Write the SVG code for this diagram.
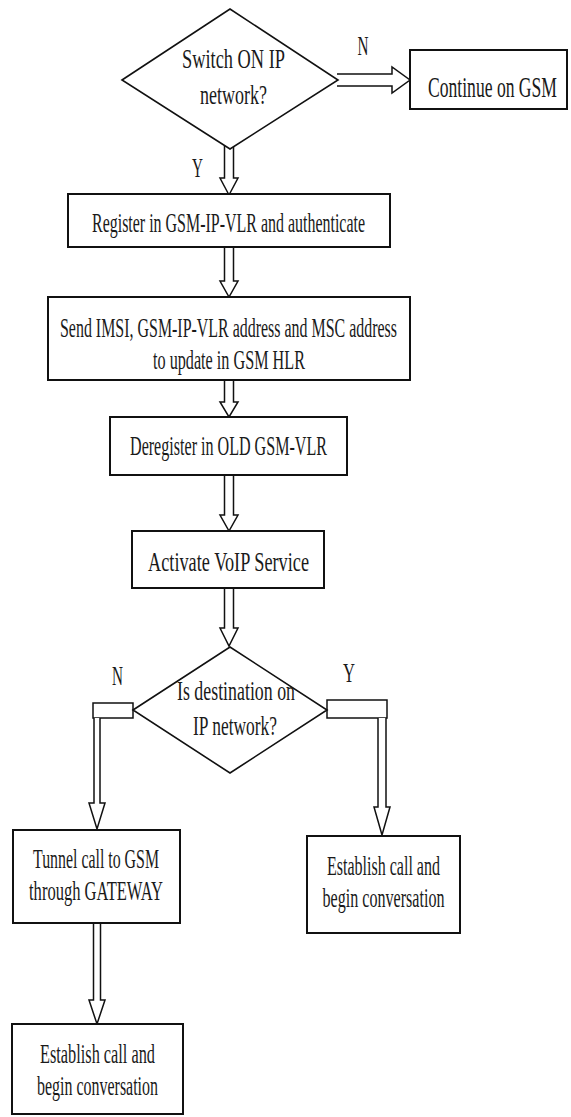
<svg xmlns="http://www.w3.org/2000/svg" width="571" height="1117" viewBox="0 0 571 1117">
<style>
.box{fill:#fff;stroke:#111;stroke-width:2}
.dia{fill:#fff;stroke:#111;stroke-width:1.6}
.arr{fill:#fff;stroke:#111;stroke-width:1.5;stroke-linejoin:miter}
text{font-family:"Liberation Serif","Times New Roman",serif;font-size:28px;fill:#1a1a1a;text-anchor:middle}
.big{font-size:30px}
</style>
<rect width="571" height="1117" fill="#fff"/>
<g id="connectors">
  <path class="arr" d="M224.5,146 L224.5,178 L220,178 L229,195 L238,178 L233.5,178 L233.5,146"/>
  <path class="arr" d="M224.5,247 L224.5,281 L220,281 L229,297 L238,281 L233.5,281 L233.5,247"/>
  <path class="arr" d="M224.5,380 L224.5,402 L220,402 L229,417 L238,402 L233.5,402 L233.5,380"/>
  <path class="arr" d="M224.5,475 L224.5,515 L220,515 L229,531 L238,515 L233.5,515 L233.5,475"/>
  <path class="arr" d="M224.5,588 L224.5,628 L220,628 L229,646 L238,628 L233.5,628 L233.5,588"/>
  <path class="arr" d="M337,74 L392,74 L392,67 L410,80 L392,93 L392,86 L337,86"/>
  <rect class="arr" x="93" y="703" width="40" height="15"/>
  <path class="arr" d="M94,718 L94,803 L89,803 L97,829 L105,803 L100,803 L100,718"/>
  <rect class="arr" x="327" y="700" width="60" height="18"/>
  <path class="arr" d="M378,718 L378,807 L374,807 L382,835 L390,807 L386,807 L386,718"/>
  <path class="arr" d="M93.5,923 L93.5,1000 L89,1000 L97,1024 L105,1000 L100.5,1000 L100.5,923"/>
</g>
<g id="n-switch">
  <polygon class="dia" points="122,80 230,9 338,80 230,149"/>
  <text transform="translate(233.5,68) scale(0.6,1)" textLength="171.7" lengthAdjust="spacingAndGlyphs">Switch ON IP</text>
  <text transform="translate(233.5,104) scale(0.6,1)" textLength="111.7" lengthAdjust="spacingAndGlyphs">network?</text>
</g>
<g id="lbl-n1"><text transform="translate(363,55) scale(0.6,1)" textLength="18.3" lengthAdjust="spacingAndGlyphs">N</text></g>
<g id="lbl-y1"><text transform="translate(197.5,177) scale(0.6,1)" textLength="18.3" lengthAdjust="spacingAndGlyphs">Y</text></g>
<g id="n-continue">
  <rect class="box" x="410" y="50" width="157" height="59"/>
  <text class="big" transform="translate(492.5,97) scale(0.6,1)" textLength="215" lengthAdjust="spacingAndGlyphs">Continue on GSM</text>
</g>
<g id="n-register">
  <rect class="box" x="68" y="194" width="322" height="53"/>
  <text transform="translate(228.5,232) scale(0.6,1)" textLength="455" lengthAdjust="spacingAndGlyphs">Register in GSM-IP-VLR and authenticate</text>
</g>
<g id="n-send">
  <rect class="box" x="48" y="297" width="362" height="83"/>
  <text transform="translate(228.5,337) scale(0.6,1)" textLength="561.7" lengthAdjust="spacingAndGlyphs">Send IMSI, GSM-IP-VLR address and MSC address</text>
  <text transform="translate(229,369) scale(0.6,1)" textLength="253.3" lengthAdjust="spacingAndGlyphs">to update in GSM HLR</text>
</g>
<g id="n-deregister">
  <rect class="box" x="110" y="417" width="237" height="58"/>
  <text transform="translate(228.5,455) scale(0.6,1)" textLength="328.3" lengthAdjust="spacingAndGlyphs">Deregister in OLD GSM-VLR</text>
</g>
<g id="n-activate">
  <rect class="box" x="132" y="531" width="192" height="57"/>
  <text transform="translate(228.5,571) scale(0.6,1)" textLength="268.3" lengthAdjust="spacingAndGlyphs">Activate VoIP Service</text>
</g>
<g id="n-destination">
  <polygon class="dia" points="133,710 230,647 327,710 230,773"/>
  <text transform="translate(236,700) scale(0.6,1)" textLength="196.7" lengthAdjust="spacingAndGlyphs">Is destination on</text>
  <text transform="translate(235,735) scale(0.6,1)" textLength="140" lengthAdjust="spacingAndGlyphs">IP network?</text>
</g>
<g id="lbl-n2"><text transform="translate(117.5,685) scale(0.6,1)" textLength="18.3" lengthAdjust="spacingAndGlyphs">N</text></g>
<g id="lbl-y2"><text transform="translate(349,682) scale(0.6,1)" textLength="20" lengthAdjust="spacingAndGlyphs">Y</text></g>
<g id="n-tunnel">
  <rect class="box" x="13" y="830" width="167" height="93"/>
  <text transform="translate(96,868) scale(0.6,1)" textLength="210" lengthAdjust="spacingAndGlyphs">Tunnel call to GSM</text>
  <text transform="translate(96,900) scale(0.6,1)" textLength="223.3" lengthAdjust="spacingAndGlyphs">through GATEWAY</text>
</g>
<g id="n-establish-ip">
  <rect class="box" x="307" y="836" width="153" height="97"/>
  <text transform="translate(383.5,875) scale(0.6,1)" textLength="188.3" lengthAdjust="spacingAndGlyphs">Establish call and</text>
  <text transform="translate(383.5,907) scale(0.6,1)" textLength="203.3" lengthAdjust="spacingAndGlyphs">begin conversation</text>
</g>
<g id="n-establish-gsm">
  <rect class="box" x="12" y="1024" width="171" height="90"/>
  <text transform="translate(97.5,1063) scale(0.6,1)" textLength="191.7" lengthAdjust="spacingAndGlyphs">Establish call and</text>
  <text transform="translate(97.5,1095) scale(0.6,1)" textLength="201.7" lengthAdjust="spacingAndGlyphs">begin conversation</text>
</g>
</svg>
